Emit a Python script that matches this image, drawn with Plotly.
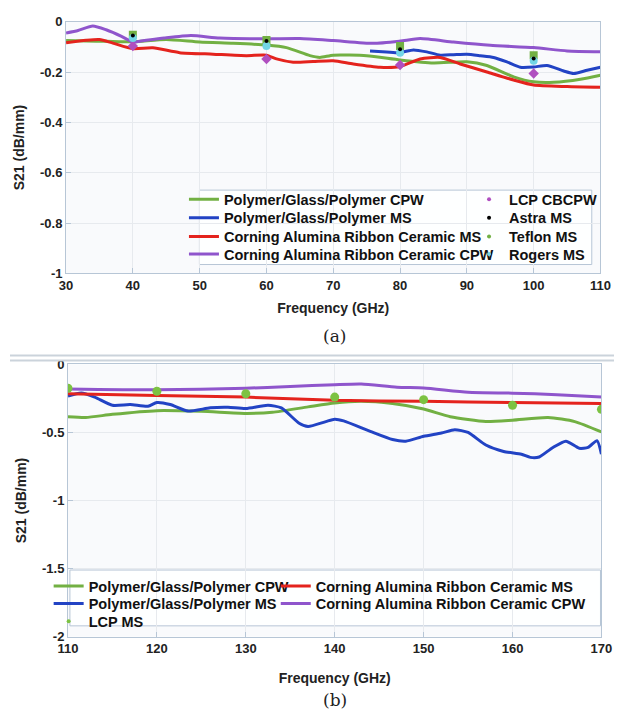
import numpy as np
import plotly.graph_objects as go

# ---------------- Panel (a): 30-110 GHz ----------------
freq_a_pgp_cpw = [30, 33, 36, 40, 45, 50, 55, 60, 63, 66.5, 68, 70, 75, 80, 85, 90, 93, 97, 100, 103, 107, 110]
s21_a_pgp_cpw = [-0.075, -0.077, -0.078, -0.080, -0.071, -0.081, -0.086, -0.093, -0.103, -0.135, -0.142,
                 -0.133, -0.135, -0.152, -0.164, -0.159, -0.174, -0.219, -0.239, -0.241, -0.229, -0.213]

freq_a_pgp_ms = [75.5, 78, 80, 82, 84, 86, 88, 90, 92, 94, 96, 98, 100, 102, 104.5, 106, 108, 110]
s21_a_pgp_ms = [-0.116, -0.120, -0.123, -0.112, -0.120, -0.133, -0.131, -0.129, -0.135, -0.142, -0.160,
                -0.181, -0.180, -0.174, -0.196, -0.206, -0.193, -0.181]

freq_a_car_ms = [30, 33, 35, 37, 40, 43, 47, 52, 57, 60, 61.5, 64, 67, 70, 73, 77, 80, 83, 86, 89, 93, 97, 100, 105, 110]
s21_a_car_ms = [-0.084, -0.074, -0.071, -0.085, -0.107, -0.104, -0.123, -0.129, -0.135, -0.133, -0.148,
                -0.161, -0.158, -0.155, -0.168, -0.181, -0.178, -0.148, -0.142, -0.168, -0.200, -0.232,
                -0.252, -0.258, -0.261]

freq_a_car_cpw = [30, 31.8, 34, 36, 38.3, 40, 41.2, 44.7, 48.7, 53, 60, 65, 70, 76, 80, 83, 88, 93.5, 100, 105, 110]
s21_a_car_cpw = [-0.045, -0.035, -0.017, -0.032, -0.058, -0.081, -0.077, -0.065, -0.055, -0.065, -0.068,
                 -0.067, -0.075, -0.086, -0.077, -0.067, -0.081, -0.094, -0.103, -0.116, -0.119]

freq_a_points = [40, 60, 80, 100]
s21_lcp_cbcpw = [-0.097, -0.148, -0.172, -0.206]
s21_astra_ms = [-0.055, -0.077, -0.110, -0.146]
s21_teflon_ms = [-0.052, -0.073, -0.097, -0.133]
s21_rogers_ms = [-0.065, -0.097, -0.123, -0.155]

# ---------------- Panel (b): 110-170 GHz ----------------
freq_b_pgp_cpw = [110, 112, 115, 120, 125, 130, 133, 137, 140, 143, 146.5, 150, 153, 157, 160, 164, 167, 170]
s21_b_pgp_cpw = [-0.384, -0.390, -0.367, -0.340, -0.345, -0.360, -0.352, -0.312, -0.283, -0.271, -0.288,
                 -0.328, -0.384, -0.420, -0.410, -0.390, -0.420, -0.496]

freq_b_pgp_ms = [110, 111.5, 113, 115, 117, 119, 120, 121.5, 123.5, 126, 128, 130, 132.5, 134, 136, 137,
                 139, 140, 141, 144, 146.5, 148, 150, 152, 153.5, 155, 157, 159, 161, 162, 163, 164.5,
                 166, 167.5, 168.5, 169.5, 170]
s21_b_pgp_ms = [-0.233, -0.210, -0.240, -0.300, -0.295, -0.307, -0.280, -0.295, -0.343, -0.319, -0.315,
                -0.324, -0.300, -0.320, -0.432, -0.456, -0.420, -0.403, -0.415, -0.492, -0.552, -0.564,
                -0.528, -0.504, -0.480, -0.500, -0.592, -0.640, -0.660, -0.683, -0.680, -0.612, -0.564,
                -0.616, -0.610, -0.560, -0.660]

freq_b_car_ms = [110, 120, 130, 140, 150, 160, 170]
s21_b_car_ms = [-0.216, -0.228, -0.240, -0.264, -0.271, -0.280, -0.288]

freq_b_car_cpw = [110, 120, 130, 135, 140, 143, 147, 150, 155, 160, 165, 170]
s21_b_car_cpw = [-0.180, -0.187, -0.175, -0.162, -0.149, -0.144, -0.168, -0.173, -0.204, -0.211, -0.222, -0.240]

freq_b_lcp = [110, 120, 130, 140, 150, 160, 170]
s21_b_lcp_ms = [-0.175, -0.197, -0.216, -0.240, -0.259, -0.300, -0.330]

# axis ticks
xticks_a = [30, 40, 50, 60, 70, 80, 90, 100, 110]
yticks_a = [0, -0.2, -0.4, -0.6, -0.8, -1]
yticklabels_a = ["0", "-0.2", "-0.4", "-0.6", "-0.8", "-1"]
xticks_b = [110, 120, 130, 140, 150, 160, 170]
yticks_b = [0, -0.5, -1, -1.5, -2]
yticklabels_b = ["0", "-0.5", "-1", "-1.5", "-2"]

GREEN = "#72B043"
BLUE = "#2243C4"
RED = "#E4231D"
PURPLE = "#8F55CC"
MAGENTA = "#B04FC0"
CYAN = "#72D6E6"
LIME = "#7CC242"

W, H = 625, 721
FONT = "Liberation Sans"


def px(v):
    return v / W


def py(v):
    return 1 - v / H


fig = go.Figure()
legend_font = dict(family=FONT, size=14.5, color="#111111", weight="bold")
legend_boxes = {}
_count = [0]


def new_legend(text_x, row_y, drop):
    """One legend per cell of the two-column key; returns its layout id."""
    _count[0] += 1
    key = "legend" if _count[0] == 1 else f"legend{_count[0]}"
    legend_boxes[key] = dict(x=px(text_x - 40), y=py(row_y - drop), xanchor="left", yanchor="top",
                             bgcolor="rgba(0,0,0,0)", borderwidth=0, itemwidth=30,
                             font=legend_font)
    return key


def line(x, y, name, color, xa, ya, legend):
    fig.add_trace(go.Scatter(
        x=x, y=y, name=name, mode="lines",
        line=dict(color=color, width=3, shape="spline", smoothing=0.6),
        xaxis=xa, yaxis=ya, legend=legend))


def points(x, y, name, color, size, symbol, xa, ya, legend):
    # data markers drawn on the axes; the key shows a small dot of the same colour
    fig.add_trace(go.Scatter(x=x, y=y, name=name, mode="markers", showlegend=False,
                             marker=dict(color=color, size=size, symbol=symbol),
                             xaxis=xa, yaxis=ya))
    fig.add_trace(go.Scatter(x=[None], y=[None], name=name, mode="markers",
                             marker=dict(color=color, size=4, symbol="circle"),
                             xaxis=xa, yaxis=ya, legend=legend))


# key of panel (a): two columns, four rows
top_rows = [197, 216, 235, 253]
col1_a, col2_a = 220, 515
# key of panel (b): two columns, three rows
bot_rows = [586, 604, 622]
col1_b, col2_b = 80, 315


def key_a(col, row):
    return new_legend(col, top_rows[row], 17)


def key_b(col, row):
    return new_legend(col, bot_rows[row], 11)


# panel (a) curves
line(freq_a_pgp_cpw, s21_a_pgp_cpw, "Polymer/Glass/Polymer CPW", GREEN, "x", "y", key_a(col1_a, 0))
line(freq_a_pgp_ms, s21_a_pgp_ms, "Polymer/Glass/Polymer MS", BLUE, "x", "y", key_a(col1_a, 1))
line(freq_a_car_ms, s21_a_car_ms, "Corning Alumina Ribbon Ceramic MS", RED, "x", "y", key_a(col1_a, 2))
line(freq_a_car_cpw, s21_a_car_cpw, "Corning Alumina Ribbon Ceramic CPW", PURPLE, "x", "y", key_a(col1_a, 3))

# panel (a) reference substrates
points(freq_a_points, s21_lcp_cbcpw, "LCP CBCPW", MAGENTA, 8, "diamond", "x", "y", key_a(col2_a, 0))
points(freq_a_points, s21_teflon_ms, "Teflon MS", GREEN, 8, "square", "x", "y", key_a(col2_a, 2))
points(freq_a_points, s21_rogers_ms, "Rogers MS", CYAN, 8, "circle", "x", "y", key_a(col2_a, 3))
points(freq_a_points, s21_astra_ms, "Astra MS", "black", 4, "circle", "x", "y", key_a(col2_a, 1))

# panel (b) curves
line(freq_b_pgp_cpw, s21_b_pgp_cpw, "Polymer/Glass/Polymer CPW", GREEN, "x2", "y2", key_b(col1_b, 0))
line(freq_b_pgp_ms, s21_b_pgp_ms, "Polymer/Glass/Polymer MS", BLUE, "x2", "y2", key_b(col1_b, 1))
line(freq_b_car_ms, s21_b_car_ms, "Corning Alumina Ribbon Ceramic MS", RED, "x2", "y2", key_b(col2_b, 0))
line(freq_b_car_cpw, s21_b_car_cpw, "Corning Alumina Ribbon Ceramic CPW", PURPLE, "x2", "y2", key_b(col2_b, 1))
points(freq_b_lcp, s21_b_lcp_ms, "LCP MS", LIME, 9, "circle", "x2", "y2", key_b(col1_b, 2))

AX = "#B7C6D6"
GRID = "#E7EAEE"
tickfont = dict(family=FONT, size=13, color="#222222", weight="bold")
titlefont = dict(family=FONT, size=14, color="#222222", weight="bold")

common = dict(showline=True, linecolor=AX, linewidth=1, mirror=True, ticks="inside", ticklen=5,
              tickcolor=AX, showgrid=True, gridcolor=GRID, gridwidth=1, zeroline=False,
              tickfont=tickfont, title_font=titlefont)

fig.update_layout(
    width=W, height=H, margin=dict(l=0, r=0, t=0, b=0),
    paper_bgcolor="white", plot_bgcolor="#F9FAFC",
    font=dict(family=FONT, color="#222222"),
    xaxis=dict(domain=[px(58), px(611)], range=[30, 110], tickvals=xticks_a, anchor="y",
               title_text="Frequency (GHz)", title_standoff=11, **common),
    yaxis=dict(domain=[py(272), py(15)], range=[-1, 0], tickvals=yticks_a, ticktext=yticklabels_a,
               anchor="x", title_text="S21 (dB/mm)", title_standoff=12, **common),
    xaxis2=dict(domain=[px(60), px(612)], range=[110, 170], tickvals=xticks_b, anchor="y2",
                title_text="Frequency (GHz)", title_standoff=17, **common),
    yaxis2=dict(domain=[py(643), py(365)], range=[-2, 0], tickvals=yticks_b, ticktext=yticklabels_b,
                anchor="x2", title_text="S21 (dB/mm)", title_standoff=12, **common),
    showlegend=True,
    **legend_boxes,
)

# legend frames and panel separators
fig.add_shape(type="rect", xref="paper", yref="paper", x0=px(196), x1=px(602), y0=py(263), y1=py(187),
              line=dict(color=AX, width=1), fillcolor="rgba(255,255,255,0.85)", layer="below")
fig.add_shape(type="rect", xref="paper", yref="paper", x0=px(62), x1=px(611), y0=py(632), y1=py(575),
              line=dict(color=AX, width=1), fillcolor="rgba(255,255,255,0.85)", layer="below")
fig.add_shape(type="line", xref="paper", yref="paper", x0=0, x1=1, y0=py(356), y1=py(356),
              line=dict(color="#CBD3DB", width=2))
fig.add_shape(type="line", xref="paper", yref="paper", x0=0, x1=1, y0=py(361), y1=py(361),
              line=dict(color="#CBD3DB", width=2))

# panel captions
for label, ycap in (("(a)", 336), ("(b)", 708)):
    fig.add_annotation(text=label, xref="paper", yref="paper", x=px(336), y=py(ycap),
                       showarrow=False, font=dict(family="DejaVu Serif", size=17, color="#222222"),
                       xanchor="center", yanchor="middle")

fig.write_html("out.html")
